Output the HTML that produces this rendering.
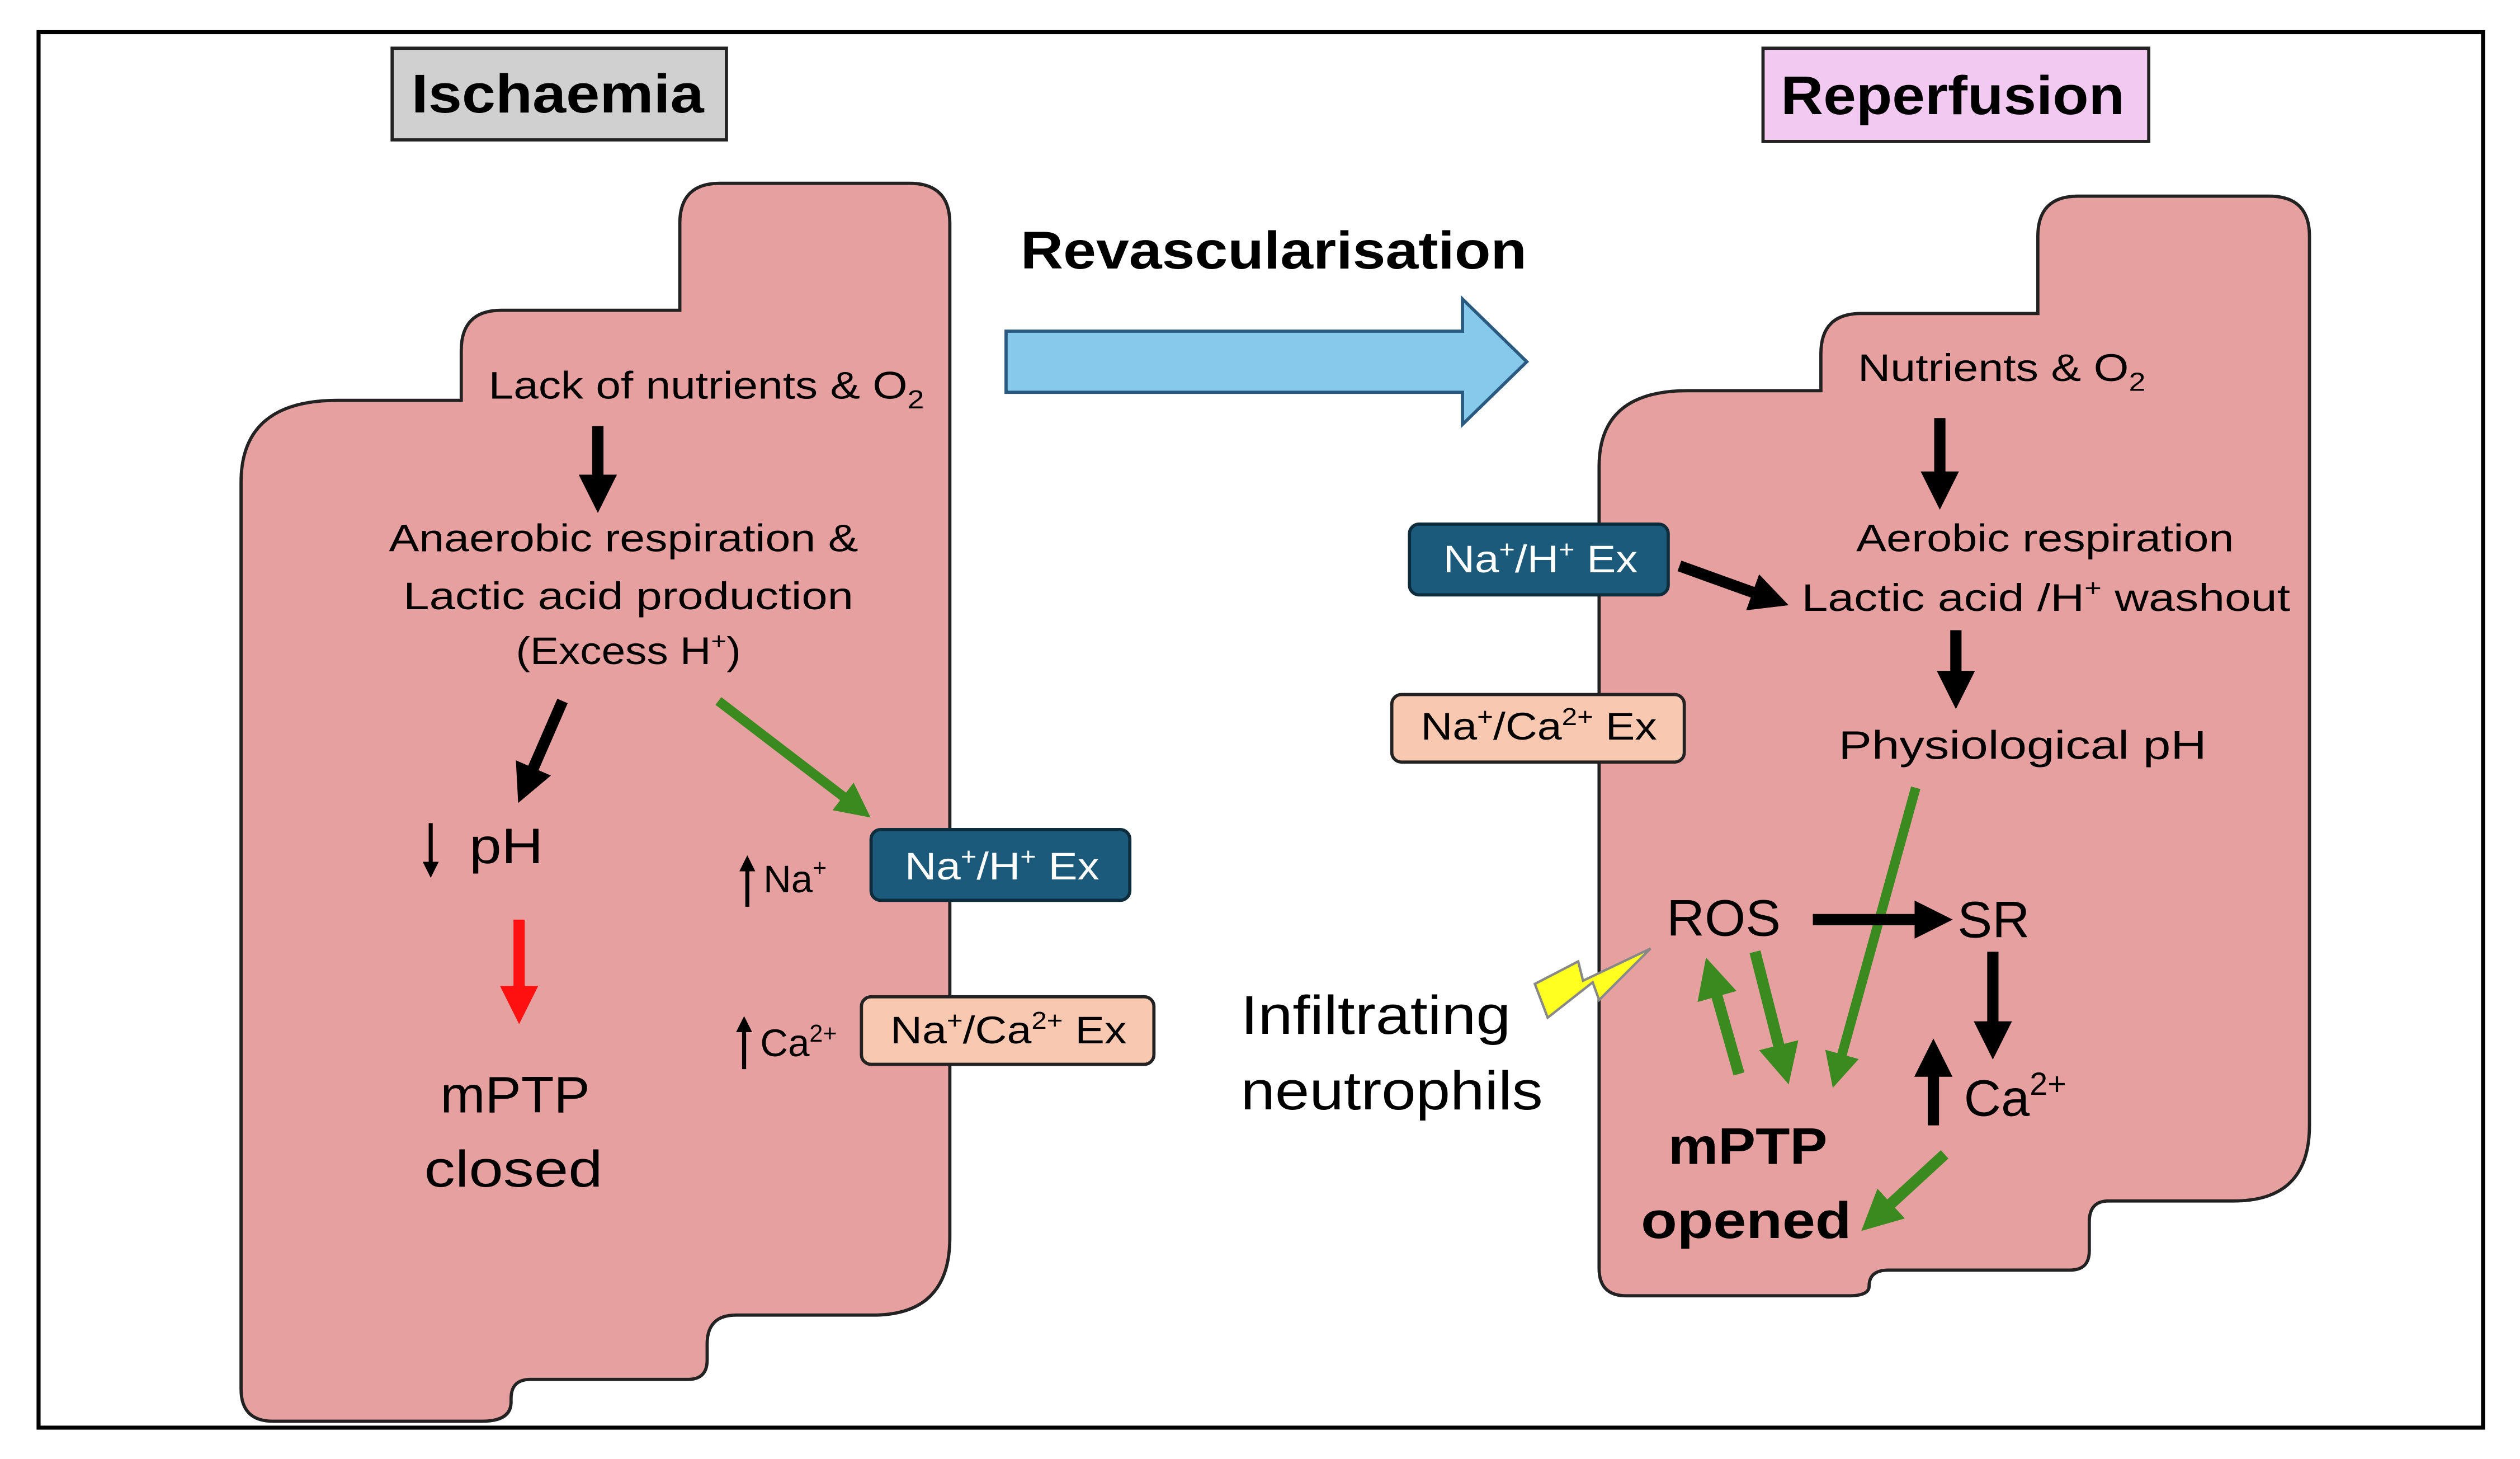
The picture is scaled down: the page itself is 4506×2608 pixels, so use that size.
<!DOCTYPE html>
<html><head><meta charset="utf-8"><style>
html,body{margin:0;padding:0;background:#fff}
svg{display:block}
text{font-family:"Liberation Sans",sans-serif}
</style></head><body>
<svg width="4506" height="2608" viewBox="0 0 1568 907.5" preserveAspectRatio="none" xmlns="http://www.w3.org/2000/svg">
<defs>
<marker id="hb" viewBox="0 0 10 10" refX="2" refY="5" markerWidth="3.4" markerHeight="3.4" orient="auto"><path d="M0,0L10,5L0,10z" fill="#000"/></marker>
<marker id="hg" viewBox="0 0 10 10" refX="2" refY="5" markerWidth="3.6" markerHeight="3.6" orient="auto"><path d="M0,0L10,5L0,10z" fill="#3a8a20"/></marker>
<marker id="hr" viewBox="0 0 10 10" refX="2" refY="5" markerWidth="3.4" markerHeight="3.4" orient="auto"><path d="M0,0L10,5L0,10z" fill="#ff1010"/></marker>
<marker id="ht" viewBox="0 0 10 10" refX="2" refY="5" markerWidth="4" markerHeight="4" orient="auto"><path d="M0,0L10,5L0,10z" fill="#000"/></marker>
</defs>
<rect x="24" y="20" width="1521" height="868" fill="#fff" stroke="#000" stroke-width="2.5"/>

<path d="M448,114 H566 Q591,114 591,139 V770 Q591,818 543,818 H458 Q440,818 440,836 V846 Q440,858 428,858 H330 Q318,858 318,870 V872 Q318,884 300,884 H170 Q150,884 150,864 V300 Q150,249 210,249 H287 V218 Q287,193 312,193 H423 V139 Q423,114 448,114 Z" fill="#e6a0a0" stroke="#222" stroke-width="2"/>
<path d="M1293,122 H1412 Q1437,122 1437,147 V700 Q1437,747 1390,747 H1312 Q1300,747 1300,760 V778 Q1300,790 1288,790 H1175 Q1163,790 1163,800 V800 Q1163,806 1150,806 H1012 Q995,806 995,789 V290 Q995,243 1050,243 H1133 V220 Q1133,195 1158,195 H1268 V147 Q1268,122 1293,122 Z" fill="#e6a0a0" stroke="#222" stroke-width="2"/>

<rect x="244" y="30" width="208" height="57" fill="#d0d0d0" stroke="#222" stroke-width="2"/>
<text x="256" y="70" font-size="34" font-weight="bold" textLength="182" lengthAdjust="spacingAndGlyphs">Ischaemia</text>
<rect x="1097" y="30" width="240" height="58" fill="#f2c9f0" stroke="#222" stroke-width="2"/>
<text x="1108" y="71" font-size="34" font-weight="bold" textLength="214" lengthAdjust="spacingAndGlyphs">Reperfusion</text>

<text x="635" y="167" font-size="33" font-weight="bold" textLength="315" lengthAdjust="spacingAndGlyphs">Revascularisation</text>
<path d="M626,206 H910 V186 L950,225 L910,264 V244 H626 Z" fill="#86c9ea" stroke="#2a5a80" stroke-width="2"/>

<text x="304" y="248" font-size="24" textLength="271" lengthAdjust="spacingAndGlyphs">Lack of nutrients &amp; O<tspan font-size="16" dy="6">2</tspan></text>
<line x1="372" y1="265" x2="372" y2="300" stroke="#000" stroke-width="7" marker-end="url(#hb)"/>
<text x="242" y="343" font-size="24" textLength="292" lengthAdjust="spacingAndGlyphs">Anaerobic respiration &amp;</text>
<text x="251" y="379" font-size="24" textLength="280" lengthAdjust="spacingAndGlyphs">Lactic acid production</text>
<text x="321" y="413" font-size="24" textLength="140" lengthAdjust="spacingAndGlyphs">(Excess H<tspan font-size="15" dy="-9">+</tspan><tspan dy="9">)</tspan></text>
<line x1="350" y1="436" x2="330" y2="482" stroke="#000" stroke-width="7" marker-end="url(#hb)"/>
<line x1="447" y1="436" x2="528" y2="498" stroke="#3a8a20" stroke-width="6" marker-end="url(#hg)"/>
<line x1="268" y1="512" x2="268" y2="538" stroke="#000" stroke-width="2.5" marker-end="url(#ht)"/>
<text x="292" y="537" font-size="31" textLength="46" lengthAdjust="spacingAndGlyphs">pH</text>
<line x1="323" y1="572" x2="323" y2="618" stroke="#ff1010" stroke-width="7" marker-end="url(#hr)"/>
<text x="274" y="692" font-size="32" textLength="93" lengthAdjust="spacingAndGlyphs">mPTP</text>
<text x="264" y="738" font-size="32" textLength="111" lengthAdjust="spacingAndGlyphs">closed</text>

<line x1="465" y1="564" x2="465" y2="540" stroke="#000" stroke-width="2.5" marker-end="url(#ht)"/>
<text x="475" y="555" font-size="24">Na<tspan font-size="15" dy="-10">+</tspan></text>
<rect x="542" y="516" width="161" height="44" rx="6" fill="#1b5a7a" stroke="#0d2d3d" stroke-width="2"/>
<text x="563" y="547" font-size="24" fill="#fff" textLength="121" lengthAdjust="spacingAndGlyphs">Na<tspan font-size="15" dy="-9">+</tspan><tspan dy="9">/H</tspan><tspan font-size="15" dy="-9">+</tspan><tspan dy="9"> Ex</tspan></text>
<line x1="463" y1="665" x2="463" y2="640" stroke="#000" stroke-width="2.5" marker-end="url(#ht)"/>
<text x="473" y="657" font-size="24">Ca<tspan font-size="15" dy="-9">2+</tspan></text>
<rect x="536" y="620" width="182" height="42" rx="6" fill="#f8c8b0" stroke="#222" stroke-width="2"/>
<text x="554" y="649" font-size="24" textLength="147" lengthAdjust="spacingAndGlyphs">Na<tspan font-size="15" dy="-9">+</tspan><tspan dy="9">/Ca</tspan><tspan font-size="15" dy="-9">2+</tspan><tspan dy="9"> Ex</tspan></text>

<text x="1156" y="237" font-size="24" textLength="179" lengthAdjust="spacingAndGlyphs">Nutrients &amp; O<tspan font-size="16" dy="6">2</tspan></text>
<line x1="1207" y1="260" x2="1207" y2="298" stroke="#000" stroke-width="7" marker-end="url(#hb)"/>
<text x="1155" y="343" font-size="24" textLength="235" lengthAdjust="spacingAndGlyphs">Aerobic respiration</text>
<text x="1121" y="380" font-size="24" textLength="304" lengthAdjust="spacingAndGlyphs">Lactic acid /H<tspan font-size="15" dy="-9">+</tspan><tspan dy="9">  washout</tspan></text>
<rect x="877" y="326" width="161" height="44" rx="6" fill="#1b5a7a" stroke="#0d2d3d" stroke-width="2"/>
<text x="898" y="356" font-size="24" fill="#fff" textLength="121" lengthAdjust="spacingAndGlyphs">Na<tspan font-size="15" dy="-9">+</tspan><tspan dy="9">/H</tspan><tspan font-size="15" dy="-9">+</tspan><tspan dy="9"> Ex</tspan></text>
<line x1="1045" y1="352" x2="1095" y2="370" stroke="#000" stroke-width="7" marker-end="url(#hb)"/>
<rect x="866" y="432" width="182" height="42" rx="6" fill="#f8c8b0" stroke="#222" stroke-width="2"/>
<text x="884" y="460" font-size="24" textLength="147" lengthAdjust="spacingAndGlyphs">Na<tspan font-size="15" dy="-9">+</tspan><tspan dy="9">/Ca</tspan><tspan font-size="15" dy="-9">2+</tspan><tspan dy="9"> Ex</tspan></text>
<line x1="1217" y1="392" x2="1217" y2="422" stroke="#000" stroke-width="7" marker-end="url(#hb)"/>
<text x="1144" y="472" font-size="25" textLength="229" lengthAdjust="spacingAndGlyphs">Physiological pH</text>
<line x1="1192" y1="490" x2="1145" y2="660" stroke="#3a8a20" stroke-width="6" marker-end="url(#hg)"/>

<text x="1037" y="582" font-size="32" textLength="71" lengthAdjust="spacingAndGlyphs">ROS</text>
<line x1="1128" y1="572" x2="1196" y2="572" stroke="#000" stroke-width="7" marker-end="url(#hb)"/>
<text x="1218" y="583" font-size="32" textLength="45" lengthAdjust="spacingAndGlyphs">SR</text>
<line x1="1240" y1="592" x2="1240" y2="640" stroke="#000" stroke-width="7" marker-end="url(#hb)"/>
<line x1="1203" y1="700" x2="1203" y2="665" stroke="#000" stroke-width="7" marker-end="url(#hb)"/>
<text x="1222" y="694" font-size="32">Ca<tspan font-size="20" dy="-13">2+</tspan></text>
<line x1="1082" y1="668" x2="1067" y2="615" stroke="#3a8a20" stroke-width="7" marker-end="url(#hg)"/>
<line x1="1092" y1="592" x2="1108" y2="655" stroke="#3a8a20" stroke-width="7" marker-end="url(#hg)"/>
<line x1="1210" y1="718" x2="1173" y2="752" stroke="#3a8a20" stroke-width="7" marker-end="url(#hg)"/>
<text x="1038" y="724" font-size="32" font-weight="bold" textLength="99" lengthAdjust="spacingAndGlyphs">mPTP</text>
<text x="1021" y="770" font-size="32" font-weight="bold" textLength="131" lengthAdjust="spacingAndGlyphs">opened</text>

<path d="M955,612 L982,598 L985,610 L1027,590 L995,622 L991,611 L963,633 Z" fill="#ffff20" stroke="#888" stroke-width="1.5"/>
<text x="772" y="643" font-size="34" textLength="168" lengthAdjust="spacingAndGlyphs">Infiltrating</text>
<text x="772" y="690" font-size="34" textLength="188" lengthAdjust="spacingAndGlyphs">neutrophils</text>
</svg>
</body></html>
